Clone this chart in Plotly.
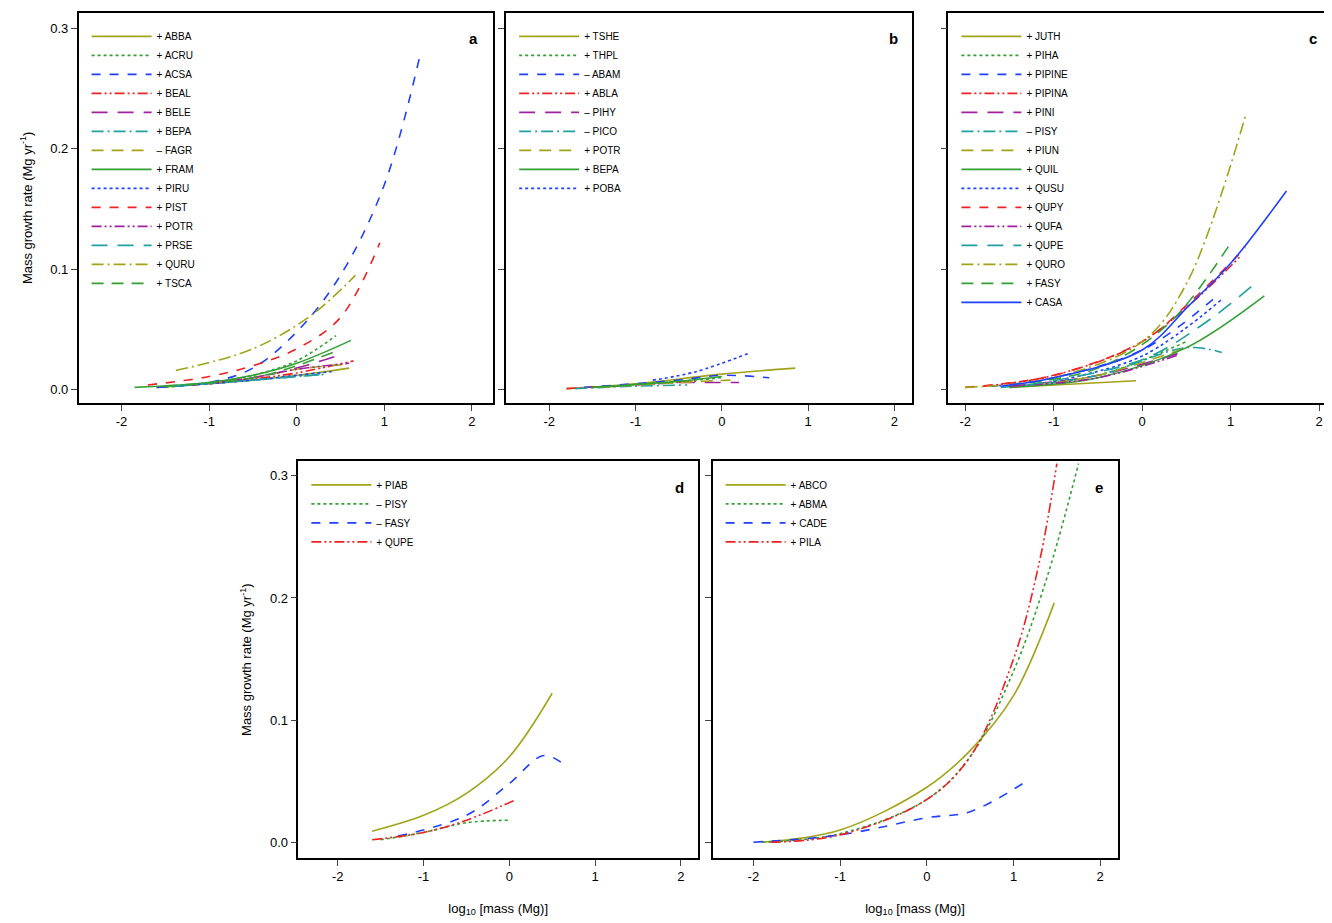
import plotly.graph_objects as go

# panel a
a_names = ["+ ABBA", "+ ACRU", "+ ACSA", "+ BEAL", "+ BELE", "+ BEPA", "– FAGR",
           "+ FRAM", "+ PIRU", "+ PIST", "+ POTR", "+ PRSE", "+ QURU", "+ TSCA"]
a_x = [[-1.6, -1, -0.5, 0, 0.6], [-1.5, -1, -0.5, 0, 0.45],
       [-1.6, -1, -0.5, 0, 0.5, 1, 1.4], [-1.2, -0.5, 0, 0.65],
       [-1.2, -0.5, 0, 0.45], [-1.4, -0.5, 0, 0.35], [-1.2, -0.5, 0, 0.55],
       [-1.85, -1, -0.5, 0, 0.62], [-1.4, -0.5, 0, 0.4],
       [-1.7, -1, -0.5, 0, 0.5, 0.95], [-1, -0.5, 0, 0.6], [-1.4, -0.5, 0, 0.35],
       [-1.38, -0.5, 0.17, 0.67], [-1.5, -0.5, 0, 0.45]]
a_y = [[0.002, 0.005, 0.008, 0.012, 0.018], [0.002, 0.006, 0.012, 0.024, 0.045],
       [0.002, 0.006, 0.018, 0.048, 0.095, 0.17, 0.275], [0.004, 0.009, 0.014, 0.024],
       [0.004, 0.01, 0.018, 0.028], [0.003, 0.008, 0.011, 0.013], [0.004, 0.01, 0.017, 0.021],
       [0.002, 0.006, 0.012, 0.022, 0.041], [0.003, 0.008, 0.012, 0.015],
       [0.004, 0.011, 0.02, 0.034, 0.06, 0.122], [0.005, 0.01, 0.017, 0.022],
       [0.003, 0.008, 0.011, 0.013], [0.016, 0.034, 0.062, 0.095], [0.003, 0.01, 0.02, 0.032]]

# panel b
b_names = ["+ TSHE", "+ THPL", "– ABAM", "+ ABLA", "– PIHY", "– PICO", "+ POTR", "+ BEPA", "+ POBA"]
b_x = [[-1.8, -1, 0, 0.85], [-1.5, -0.5, 0], [-1.6, -0.5, 0, 0.55], [-1.8, -1, -0.3],
       [-0.5, 0.2], [-1.7, -1, -0.4], [-1.4, -0.5, 0.1], [-1.5, -0.5, 0], [-0.8, -0.3, 0.3]]
b_y = [[0.001, 0.005, 0.013, 0.018], [0.002, 0.007, 0.01], [0.002, 0.008, 0.012, 0.01],
       [0.001, 0.004, 0.007], [0.006, 0.006], [0.001, 0.003, 0.004], [0.002, 0.006, 0.008],
       [0.002, 0.007, 0.011], [0.008, 0.015, 0.03]]

# panel c
c_names = ["+ JUTH", "+ PIHA", "+ PIPINE", "+ PIPINA", "+ PINI", "– PISY", "+ PIUN", "+ QUIL",
           "+ QUSU", "+ QUPY", "+ QUFA", "+ QUPE", "+ QURO", "+ FASY", "+ CASA"]
c_x = [[-1.5, -0.07], [-1.5, -0.5, 0.5], [-1.7, -1, 0, 0.8], [-1.8, -1, 0, 1.1],
       [-1.5, -0.5, 0.4], [-1.6, -0.5, 0.5, 0.9], [-1.2, -0.5, 0.5], [-1.5, -0.5, 0.5, 1.38],
       [-1, 0, 0.9], [-2, -1, 0, 0.5, 1.17], [-1.5, -0.5, 0.41], [-1.3, 0, 0.7, 1.32],
       [-2, -1, 0, 0.5, 1.17], [-1.5, -0.5, 0.3, 1.01], [-1.6, -1, 0, 0.53, 1, 1.63]]
c_y = [[0.002, 0.0075], [0.003, 0.012, 0.04], [0.003, 0.01, 0.033, 0.075], [0.003, 0.012, 0.04, 0.11],
       [0.003, 0.012, 0.03], [0.002, 0.012, 0.035, 0.031], [0.004, 0.012, 0.035],
       [0.002, 0.01, 0.035, 0.078], [0.007, 0.028, 0.075], [0.002, 0.012, 0.04, 0.07, 0.118],
       [0.003, 0.01, 0.029], [0.004, 0.025, 0.055, 0.091], [0.002, 0.01, 0.04, 0.088, 0.228],
       [0.004, 0.018, 0.055, 0.123], [0.003, 0.01, 0.033, 0.07, 0.105, 0.165]]

# panel d
d_names = ["+ PIAB", "– PISY", "– FASY", "+ QUPE"]
d_x = [[-1.6, -1, -0.5, 0, 0.5], [-1.5, -1, -0.5, 0], [-1.3, -0.5, 0, 0.4, 0.65], [-1.6, -1, -0.5, 0.05]]
d_y = [[0.009, 0.022, 0.04, 0.07, 0.122], [0.002, 0.008, 0.016, 0.018],
       [0.005, 0.022, 0.048, 0.071, 0.063], [0.002, 0.008, 0.018, 0.034]]

# panel e
e_names = ["+ ABCO", "+ ABMA", "+ CADE", "+ PILA"]
e_x = [[-1.9, -1, 0, 0.5, 1, 1.47], [-1.9, -1, 0, 0.5, 1, 1.4, 1.75],
       [-2, -1, 0, 0.5, 1.15], [-1.8, -1, 0, 0.5, 1, 1.3, 1.5]]
e_y = [[0, 0.01, 0.045, 0.075, 0.12, 0.196], [0, 0.007, 0.035, 0.07, 0.14, 0.22, 0.31],
       [0, 0.006, 0.02, 0.025, 0.05], [0, 0.006, 0.035, 0.07, 0.15, 0.23, 0.31]]

colors = ["#a3a31a", "#33a033", "#2040ff", "#ee2222", "#a020a0", "#20a0a0"]
dashes = ["solid", "dot", "dash", "10px,3px,2px,3px,2px,3px", "16px,10px", "12px,4px,2px,4px", "12px,8px"]

panels = [
    ("a", a_names, a_x, a_y, [0.053, 0.364], [0.572, 0.995], [-2.49, 2.24], "legend"),
    ("b", b_names, b_x, b_y, [0.374, 0.679], [0.572, 0.995], [-2.5, 2.21], "legend2"),
    ("c", c_names, c_x, c_y, [0.706, 0.993], [0.572, 0.995], [-2.19, 2.13], "legend3"),
    ("d", d_names, d_x, d_y, [0.218, 0.518], [0.079, 0.509], [-2.46, 2.2], "legend4"),
    ("e", e_names, e_x, e_y, [0.529, 0.833], [0.079, 0.509], [-2.47, 2.2], "legend5"),
]

fig = go.Figure()
layout = {}
font = "Liberation Sans, Arial, sans-serif"
for i, (lab, names, xs, ys, dx, dy, xr, leg) in enumerate(panels):
    n = "" if i == 0 else str(i + 1)
    for j, nm in enumerate(names):
        fig.add_trace(go.Scatter(
            x=xs[j], y=ys[j], mode="lines", name=nm, legend=leg,
            line=dict(color=colors[j % 6], dash=dashes[j % 7], width=1.6, shape="spline", smoothing=1.0),
            xaxis="x" + n, yaxis="y" + n))
    bottom = i >= 3
    yr = [-0.013, 0.312] if bottom else [-0.011, 0.313]
    layout["xaxis" + n] = dict(domain=dx, range=xr, tickvals=[-2, -1, 0, 1, 2],
                               ticktext=["-2", "-1", "0", "1", "2"],
                               ticks="outside", ticklen=6, showline=True, linecolor="black",
                               linewidth=1.5, mirror=True, showgrid=False, zeroline=False,
                               anchor="y" + n, tickfont=dict(size=13),
                               title=dict(text="log<sub>10</sub> [mass (Mg)]" if bottom else "",
                                          font=dict(size=13), standoff=20))
    show_lab = lab in ("a", "d")
    layout["yaxis" + n] = dict(domain=dy, range=yr, tickvals=[0, 0.1, 0.2, 0.3],
                               ticktext=["0.0", "0.1", "0.2", "0.3"], showticklabels=show_lab,
                               ticks="outside", ticklen=6, showline=True, linecolor="black",
                               linewidth=1.5, mirror=True, showgrid=False, zeroline=False,
                               anchor="x" + n, tickfont=dict(size=13),
                               title=dict(text="Mass growth rate (Mg yr<sup>-1</sup>)" if show_lab else "",
                                          font=dict(size=13)))
    layout[leg] = dict(x=dx[0] + 0.006, y=dy[1] - 0.01, xanchor="left", yanchor="top",
                       bgcolor="rgba(0,0,0,0)", font=dict(size=10), tracegroupgap=0,
                       itemwidth=60)
    fig.add_annotation(text="<b>%s</b>" % lab, xref="x%s domain" % n, yref="y%s domain" % n,
                       x=0.97, y=0.96, showarrow=False, font=dict(size=15, color="black"),
                       xanchor="right", yanchor="top")

fig.update_layout(**layout)
fig.update_layout(width=1332, height=923, margin=dict(l=0, r=0, t=0, b=0),
                  plot_bgcolor="white", paper_bgcolor="white", showlegend=True,
                  font=dict(family=font, color="black"))
fig.write_html("out.html")
